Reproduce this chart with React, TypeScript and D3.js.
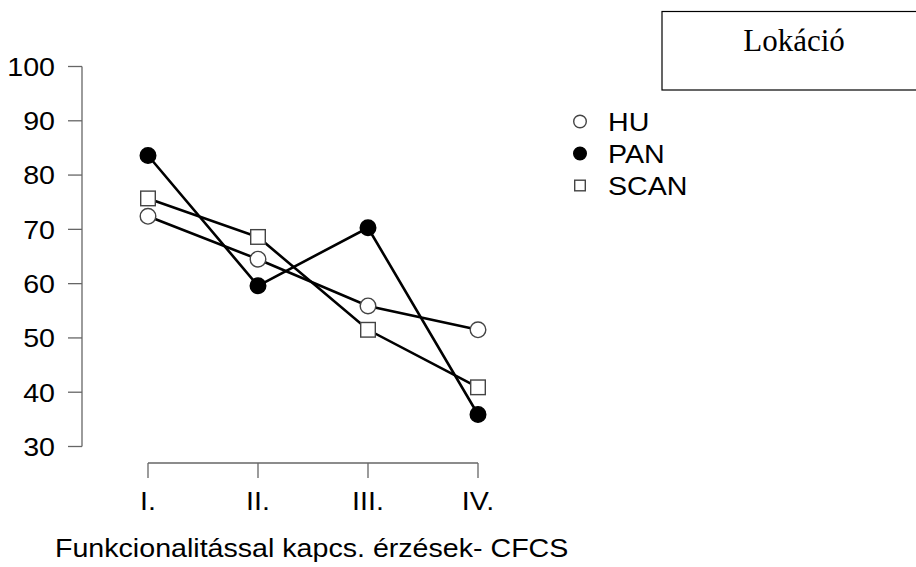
import React, { useEffect, useRef } from "react";
import * as d3 from "d3";

const categories = ["I.", "II.", "III.", "IV."];
const seriesNames = ["HU", "PAN", "SCAN"];
const huValues = [72.4, 64.5, 55.9, 51.5];
const panValues = [83.6, 59.6, 70.3, 35.9];
const scanValues = [75.7, 68.6, 51.5, 40.9];
const yTicks = [30, 40, 50, 60, 70, 80, 90, 100];
const xTitle = "Funkcionalitással kapcs. érzések- CFCS";
const legendTitle = "Lokáció";

export default function App() {
  const ref = useRef<SVGSVGElement>(null);

  useEffect(() => {
    const svg = d3.select(ref.current);
    svg.selectAll("*").remove();
    const sans = "'Liberation Sans', Arial, Helvetica, sans-serif";
    const stretch = 1.1;
    const x = d3.scalePoint<string>().domain(categories).range([148, 478]);
    const y = d3.scaleLinear().domain([30, 100]).range([446.5, 66.5]);
    const axisColor = "#666";

    const sText = (tx: number, ty: number, anchor: string, str: string, dy = "0") =>
      svg.append("text").attr("transform", `translate(${tx},${ty}) scale(${stretch},1)`)
        .attr("dy", dy).attr("text-anchor", anchor).attr("font-family", sans)
        .attr("font-size", 26).attr("fill", "#000").text(str);

    // y axis
    const ya = svg.append("g");
    ya.append("line").attr("x1", 82).attr("x2", 82).attr("y1", y(30)).attr("y2", y(100))
      .attr("stroke", axisColor).attr("stroke-width", 1.3);
    yTicks.forEach((t) => {
      ya.append("line").attr("x1", 68).attr("x2", 82).attr("y1", y(t)).attr("y2", y(t))
        .attr("stroke", axisColor).attr("stroke-width", 1.3);
      sText(55, y(t), "end", String(t), "0.36em");
    });

    // x axis
    const xAxisY = 463;
    svg.append("line").attr("x1", x(categories[0])!).attr("x2", x(categories[categories.length - 1])!)
      .attr("y1", xAxisY).attr("y2", xAxisY).attr("stroke", axisColor).attr("stroke-width", 1.3);
    categories.forEach((c) => {
      svg.append("line").attr("x1", x(c)!).attr("x2", x(c)!).attr("y1", xAxisY).attr("y2", xAxisY + 15)
        .attr("stroke", axisColor).attr("stroke-width", 1.3);
      sText(x(c)!, 510, "middle", c);
    });
    sText(55, 557, "start", xTitle);

    const series = [
      { name: seriesNames[0], values: huValues, shape: "circle", fill: "#fff" },
      { name: seriesNames[1], values: panValues, shape: "circle", fill: "#000" },
      { name: seriesNames[2], values: scanValues, shape: "square", fill: "#fff" },
    ];

    const line = d3.line<number>().x((_, i) => x(categories[i])!).y((v) => y(v));
    series.forEach((s) => {
      svg.append("path").attr("d", line(s.values)!).attr("fill", "none")
        .attr("stroke", "#000").attr("stroke-width", 2.6);
    });

    const drawMarker = (cx: number, cy: number, shape: string, fill: string, size: number) => {
      if (shape === "circle") {
        svg.append("circle").attr("cx", cx).attr("cy", cy).attr("r", size)
          .attr("fill", fill).attr("stroke", fill === "#000" ? "#000" : "#444").attr("stroke-width", 1.4);
      } else {
        svg.append("rect").attr("x", cx - size).attr("y", cy - size).attr("width", size * 2).attr("height", size * 2)
          .attr("fill", fill).attr("stroke", "#444").attr("stroke-width", 1.4);
      }
    };

    series.forEach((s) => {
      s.values.forEach((v, i) => {
        drawMarker(x(categories[i])!, y(v), s.shape, s.fill, s.shape === "circle" ? 7.8 : 7.3);
      });
    });

    // legend
    svg.append("rect").attr("x", 662).attr("y", 11.5).attr("width", 270).attr("height", 78.5)
      .attr("fill", "#fff").attr("stroke", "#000").attr("stroke-width", 1.2);
    svg.append("text").attr("x", 794).attr("y", 51).attr("text-anchor", "middle")
      .attr("font-family", "'Liberation Serif', 'Times New Roman', serif").attr("font-size", 31)
      .attr("fill", "#000").text(legendTitle);

    const legendYs = [121.5, 153.5, 185.5];
    series.forEach((s, i) => {
      drawMarker(580, legendYs[i], s.shape, s.fill, s.shape === "circle" ? 6.3 : 5.3);
      sText(608, legendYs[i], "start", s.name, "0.36em");
    });
  }, []);

  return (
    <svg ref={ref} width={916} height={567}
      style={{ position: "absolute", left: 0, top: 0, background: "#fff" }} />
  );
}
